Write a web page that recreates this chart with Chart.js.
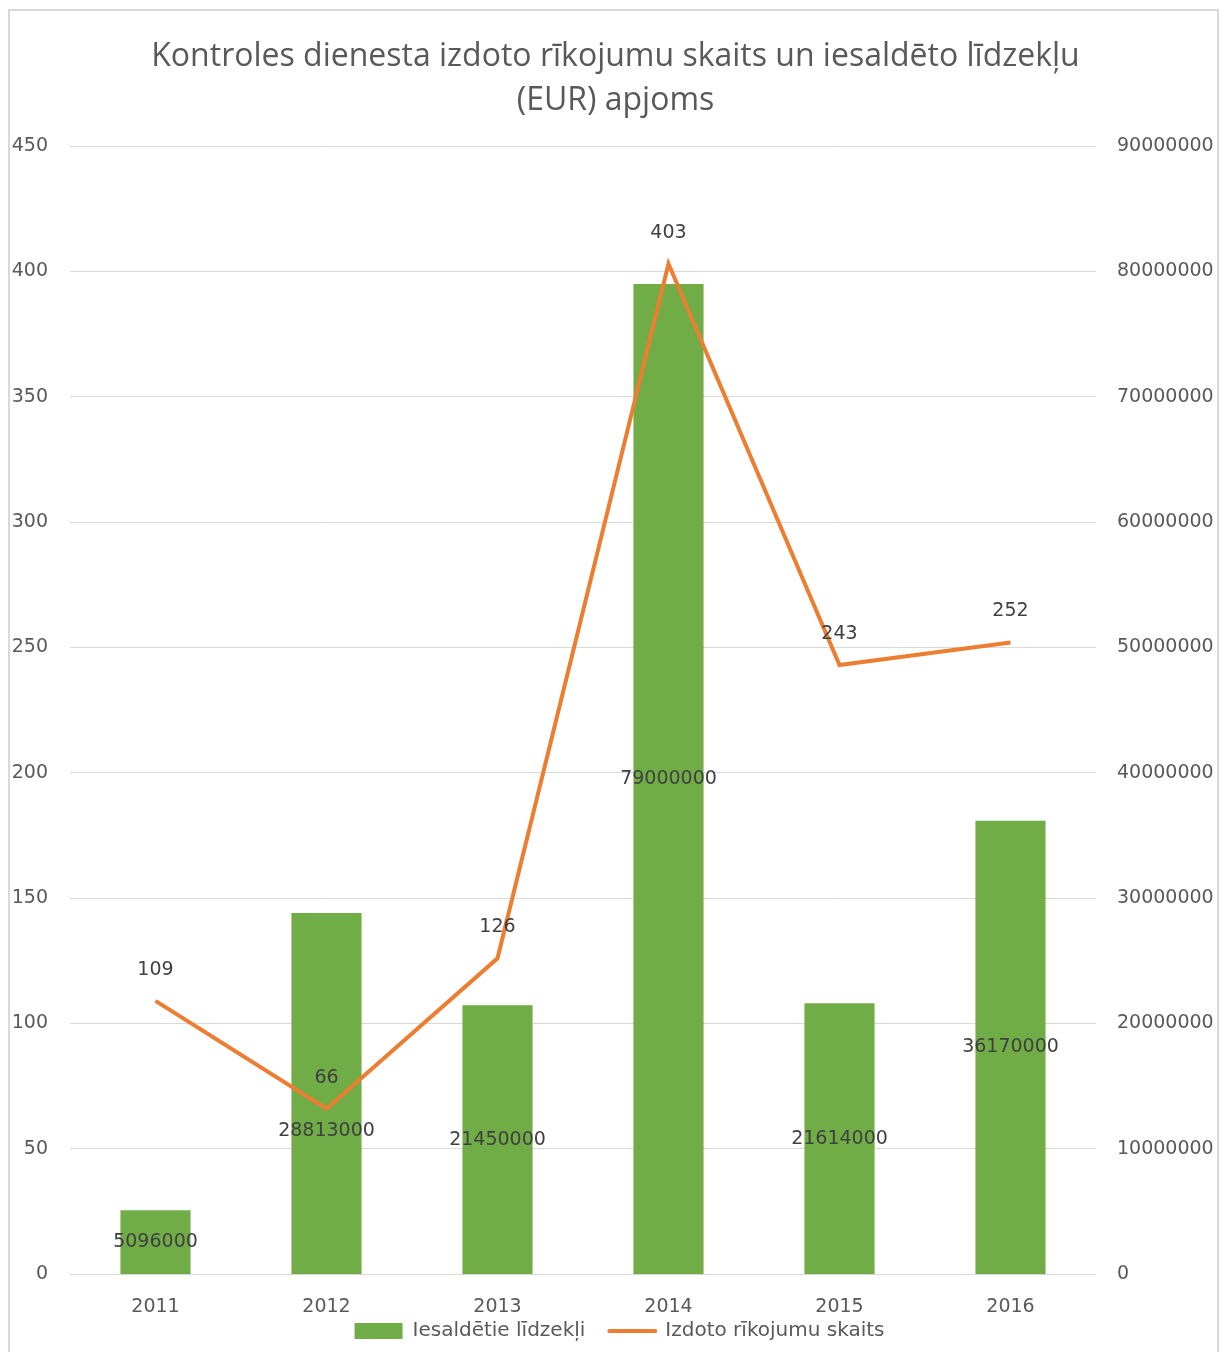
<!DOCTYPE html>
<html>
<head>
<meta charset="utf-8">
<script src="https://cdn.jsdelivr.net/npm/chart.js@4.4.0/dist/chart.umd.min.js"></script>
<style>
  html, body { margin: 0; padding: 0; background: #fff; }
  #wrap { width: 1231px; height: 1352px; }
</style>
</head>
<body>
<div id="wrap"><canvas id="chart" width="1231" height="1352"></canvas></div>
<script>
const years = ["2011", "2012", "2013", "2014", "2015", "2016"];
const frozenFunds = [5096000, 28813000, 21450000, 79000000, 21614000, 36170000];
const ordersIssued = [109, 66, 126, 403, 243, 252];
const titleLines = ["Kontroles dienesta izdoto rīkojumu skaits un iesaldēto līdzekļu", "(EUR) apjoms"];

const FONT = "'Open Sans', sans-serif";
const NUMFONT = "'DejaVu Sans', sans-serif";
const TEXT = "#595959";

// frame around the whole chart
const framePlugin = {
  id: 'frame',
  beforeDraw(chart) {
    const ctx = chart.ctx;
    ctx.save();
    ctx.fillStyle = '#fff';
    ctx.fillRect(0, 0, chart.width, chart.height);
    ctx.strokeStyle = '#d9d9d9';
    ctx.lineWidth = 2;
    ctx.strokeRect(9, 10, 1209, 1350);
    ctx.restore();
  }
};

// value labels (bars centred, line above points)
const labelPlugin = {
  id: 'valueLabels',
  afterDatasetsDraw(chart) {
    const ctx = chart.ctx;
    ctx.save();
    ctx.font = "19px " + NUMFONT;
    ctx.fillStyle = "#404040";
    ctx.textAlign = 'center';
    ctx.textBaseline = 'middle';
    const bars = chart.getDatasetMeta(0).data;
    const pts = chart.getDatasetMeta(1).data;
    bars.forEach((b, i) => {
      let y = (b.y + b.base) / 2;
      const p = pts[i];
      if (Math.abs(y - p.y) < 25) y = p.y + 22;
      ctx.fillText(String(frozenFunds[i]), b.x, y);
    });
    pts.forEach((p, i) => {
      ctx.fillText(String(ordersIssued[i]), p.x, p.y - 31);
    });
    ctx.restore();
  }
};

// legend at the bottom, drawn from the datasets
const legendPlugin = {
  id: 'bottomLegend',
  afterDraw(chart) {
    const ctx = chart.ctx;
    const y = chart.height - 21;
    ctx.save();
    ctx.font = "20px " + NUMFONT;
    ctx.textBaseline = 'middle';
    const sym = 50, gap = 8, between = 22;
    const items = chart.data.datasets.map(ds => ({ ds, w: sym + gap + ctx.measureText(ds.label).width }));
    const total = items.reduce((s, it) => s + it.w, 0) + between * (items.length - 1);
    let x = chart.width / 2 - total / 2 + 4;
    items.forEach(({ ds, w }) => {
      if (ds.type === 'line') {
        ctx.strokeStyle = ds.borderColor;
        ctx.lineWidth = 4;
        ctx.lineCap = 'round';
        ctx.beginPath();
        ctx.moveTo(x + 2, y);
        ctx.lineTo(x + sym - 2, y);
        ctx.stroke();
      } else {
        ctx.fillStyle = ds.backgroundColor;
        ctx.fillRect(x, y - 8, sym - 2, 16);
      }
      ctx.fillStyle = TEXT;
      ctx.fillText(ds.label, x + sym + gap, y);
      x += w + between;
    });
    ctx.restore();
  }
};

new Chart(document.getElementById("chart"), {
  data: {
    labels: years,
    datasets: [
      {
        type: 'bar',
        label: "Iesaldētie līdzekļi",
        data: frozenFunds,
        yAxisID: 'yRight',
        backgroundColor: "#70AD47",
        barPercentage: 0.41,
        categoryPercentage: 1,
        order: 2
      },
      {
        type: 'line',
        label: "Izdoto rīkojumu skaits",
        data: ordersIssued,
        yAxisID: 'yLeft',
        borderColor: "#ED7D31",
        backgroundColor: "#ED7D31",
        borderWidth: 4,
        pointRadius: 0,
        tension: 0,
        order: 1
      }
    ]
  },
  options: {
    responsive: false,
    animation: false,
    layout: { padding: { left: 0, right: 0, top: 0, bottom: 13 } },
    plugins: {
      title: {
        display: true,
        text: titleLines,
        color: TEXT,
        font: { family: FONT, size: 32, weight: 'normal', lineHeight: 1.375 },
        padding: { top: 35, bottom: 23 }
      },
      legend: { display: false },
      tooltip: { enabled: false }
    },
    scales: {
      x: {
        grid: { display: false, drawTicks: false },
        border: { display: false },
        ticks: { color: TEXT, font: { family: NUMFONT, size: 19 }, padding: 21 }
      },
      yLeft: {
        position: 'left',
        min: 0, max: 450,
        ticks: { stepSize: 50, color: TEXT, font: { family: NUMFONT, size: 19 }, padding: 22 },
        grid: { color: '#d9d9d9', drawTicks: false },
        border: { display: false },
        afterFit(s) { s.width = 70; }
      },
      yRight: {
        position: 'right',
        min: 0, max: 90000000,
        ticks: { stepSize: 10000000, color: TEXT, font: { family: NUMFONT, size: 19 }, padding: 21,
          callback: v => String(v) },
        grid: { display: false, drawTicks: false },
        border: { display: false },
        afterFit(s) { s.width = 135; }
      }
    }
  },
  plugins: [framePlugin, labelPlugin, legendPlugin]
});
</script>
</body>
</html>
